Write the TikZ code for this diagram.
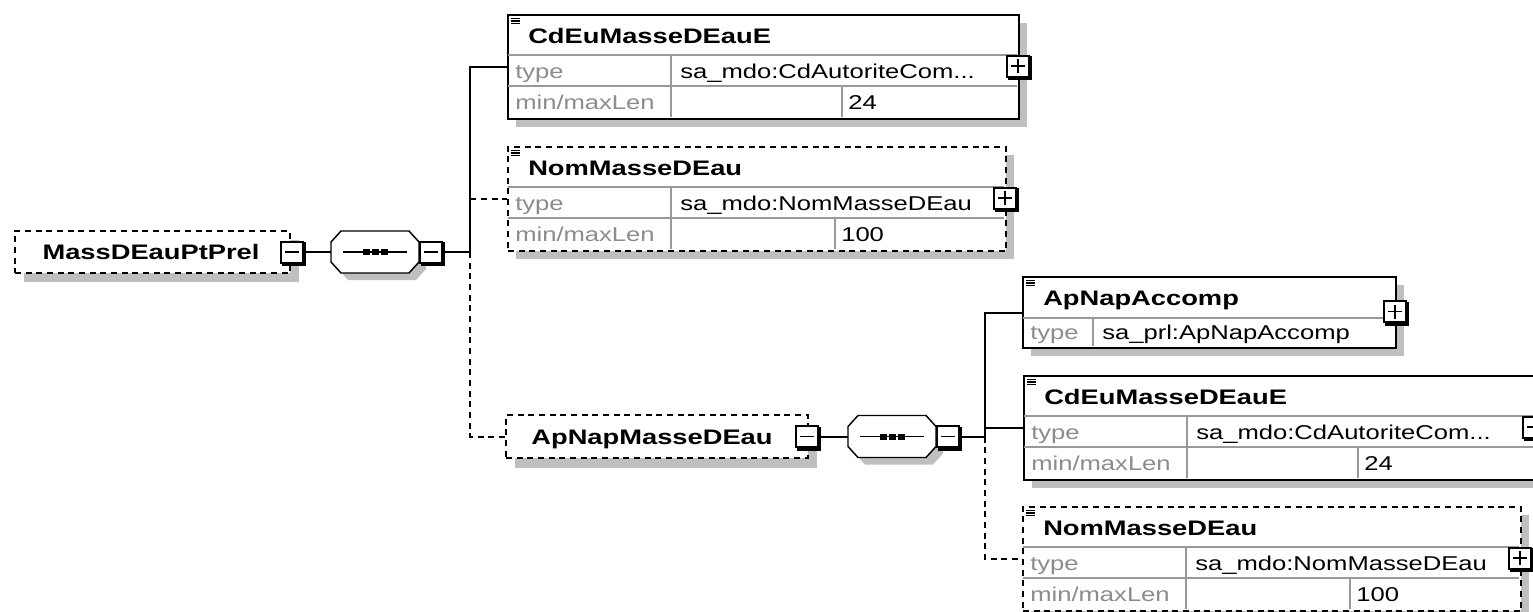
\documentclass[tikz,border=0pt]{standalone}
\usepackage{fontspec}
\setmainfont{Liberation Sans}
\newfontfamily\nmfont[FakeStretch=1.3]{Liberation Sans}
\newfontfamily\rgfont[FakeStretch=1.28]{Liberation Sans}
\tikzset{
  shc/.style={fill=black!25},
  bx/.style={draw, line width=1.5pt, fill=white, inner sep=0pt},
  dsh/.style={dash pattern=on 4.5pt off 3.5pt},
  grid/.style={draw=black!40, line width=1.1pt},
  conn/.style={line width=1.5pt},
  ttl/.style={font=\nmfont\bfseries\fontsize{15.75}{18}\selectfont, inner sep=0pt, anchor=base west},
  lbl/.style={font=\rgfont\fontsize{15}{17}\selectfont, text=black!45, inner sep=0pt, anchor=base west},
  val/.style={font=\rgfont\fontsize{15}{17}\selectfont, inner sep=0pt, anchor=base west},
}
% square button: id, cx, cy, 1=plus 0=minus
\newcommand\sqbtn[4]{%
  \node[draw, line width=1.5pt, fill=white, inner sep=0pt, minimum width={22*0.75pt}, minimum height={21*0.75pt}] (#1) at (#2,#3) {};
  \draw[line width=1.6pt] ({#2-10},{#3+13}) -- ({#2+13},{#3+13}) -- ({#2+13},{#3-10});
  \draw[line width=1pt] ({#2-7},{#3}) -- ({#2+7},{#3});
  \ifnum#4=1 \draw[line width=1pt] ({#2},{#3-7}) -- ({#2},{#3+7});\fi
}
\newcommand\icon[2]{%
  \foreach \k in {4.5,7,9.5} \draw[line width=0.8pt] ({#1+4},{#2+\k}) -- ({#1+13},{#2+\k});
}
% 3-row element: id, x, y, w, title, type, max, col2 offset, border style
\newcommand\elemthree[9]{%
  \fill[shc] ({#2+9},{#3+9}) rectangle ({#2+#4+9},{#3+113});
  \node[bx,#9,anchor=north west,minimum width={#4*0.75pt},minimum height={104*0.75pt}] (#1) at (#2,#3) {};
  \draw[grid] ({#2+1},{#3+41}) -- ({#2+#4-1},{#3+41});
  \draw[grid] ({#2+1},{#3+72}) -- ({#2+#4-1},{#3+72});
  \draw[grid] ({#2+164},{#3+41}) -- ({#2+164},{#3+103});
  \draw[grid] ({#2+#8},{#3+72}) -- ({#2+#8},{#3+103});
  \icon{#2}{#3}
  \node[ttl] at ({#2+21},{#3+29}) {#5};
  \node[lbl] at ({#2+8},{#3+64}) {type};
  \node[val] at ({#2+173},{#3+64}) {#6};
  \node[lbl] at ({#2+8},{#3+95.5}) {min/maxLen};
  \node[val] at ({#2+#8+6},{#3+95.5}) {#7};
  \sqbtn{#1p}{#2+#4}{#3+52}{1}
}
% 2-row element: id, x, y, w, title, type
\newcommand\elemtwo[6]{%
  \fill[shc] ({#2+9},{#3+9}) rectangle ({#2+#4+9},{#3+80});
  \node[bx,anchor=north west,minimum width={#4*0.75pt},minimum height={71*0.75pt}] (#1) at (#2,#3) {};
  \draw[grid] ({#2+1},{#3+42}) -- ({#2+#4-1},{#3+42});
  \draw[grid] ({#2+71},{#3+42}) -- ({#2+71},{#3+70});
  \icon{#2}{#3}
  \node[ttl] at ({#2+21},{#3+29}) {#5};
  \node[lbl] at ({#2+8},{#3+63.5}) {type};
  \node[val] at ({#2+80},{#3+63.5}) {#6};
  \sqbtn{#1p}{#2+#4}{#3+35.5}{1}
}
\newcommand\octpath[2]{({#1-34},{#2-21}) -- ({#1+34},{#2-21}) -- ({#1+44},{#2-10}) -- ({#1+44},{#2+10}) -- ({#1+34},{#2+21}) -- ({#1-34},{#2+21}) -- ({#1-44},{#2+10}) -- ({#1-44},{#2-10}) -- cycle}
% sequence compositor: id, cx, cy
\newcommand\seqnode[3]{%
  \fill[shc] \octpath{#2+7}{#3+7};
  \node[inner sep=0pt,minimum width={88*0.75pt},minimum height={42*0.75pt}] (#1) at (#2,#3) {};
  \draw[line width=1.1pt,fill=white] \octpath{#2}{#3};
  \draw[line width=1.1pt] ({#2-32},{#3}) -- ({#2+32},{#3});
  \foreach \d in {-9,0,9} \fill ({#2+\d-3.5},{#3-3}) rectangle ({#2+\d+3.5},{#3+3});
  \sqbtn{#1m}{#2+56}{#3}{0}
}
\begin{document}
\begin{tikzpicture}[x=0.75pt,y=-0.75pt]
\useasboundingbox (0,0) rectangle (1533,611);
\fill[white] (0,0) rectangle (1533,611);
\clip (0,0) rectangle (1533,611);

% root element
\fill[shc] (24,240) rectangle (299,282);
\node[bx,dsh,minimum width={275*0.75pt},minimum height={42*0.75pt}] (root) at (152.5,252) {};
\node[ttl,anchor=base] at (151,259.5) {MassDEauPtPrel};
\sqbtn{rootm}{292}{252}{0}
\seqnode{seqa}{375}{252}

% ApNapMasseDEau
\fill[shc] (515,424.5) rectangle (817,467.5);
\node[bx,dsh,minimum width={302*0.75pt},minimum height={43*0.75pt}] (apnap) at (657,436.5) {};
\node[ttl,anchor=base] at (652,444) {ApNapMasseDEau};
\sqbtn{apnapm}{807}{436.5}{0}
\seqnode{seqb}{892}{436.5}

% children
\elemthree{cdeua}{507}{14}{511}{CdEuMasseDEauE}{sa\_mdo:CdAutoriteCom...}{24}{335}{solid}
\elemthree{noma}{507}{146}{498}{NomMasseDEau}{sa\_mdo:NomMasseDEau}{100}{328}{dsh}
\elemtwo{apacc}{1022}{276}{373}{ApNapAccomp}{sa\_prl:ApNapAccomp}
\elemthree{cdeub}{1023}{375}{511}{CdEuMasseDEauE}{sa\_mdo:CdAutoriteCom...}{24}{335}{solid}
\elemthree{nomb}{1022}{506}{498}{NomMasseDEau}{sa\_mdo:NomMasseDEau}{100}{328}{dsh}

% connectors
\coordinate (ta) at (470,252);
\coordinate (tb) at (985,436.5);
\draw[conn] (rootm.east) -- (seqa.west);
\draw[conn] (seqam.east) -- (ta);
\draw[conn,dsh] (ta) |- (noma.west);
\draw[conn,dsh] (ta) |- (apnap.west);
\draw[conn] (ta) |- (cdeua.west);
\draw[conn] (apnapm.east) -- (seqb.west);
\draw[conn] (seqbm.east) -- (tb);
\draw[conn,dsh] (tb) |- (nomb.west);
\draw[conn] (tb) |- (apacc.west);
\draw[conn] (tb) |- (cdeub.west);
\end{tikzpicture}
\end{document}
